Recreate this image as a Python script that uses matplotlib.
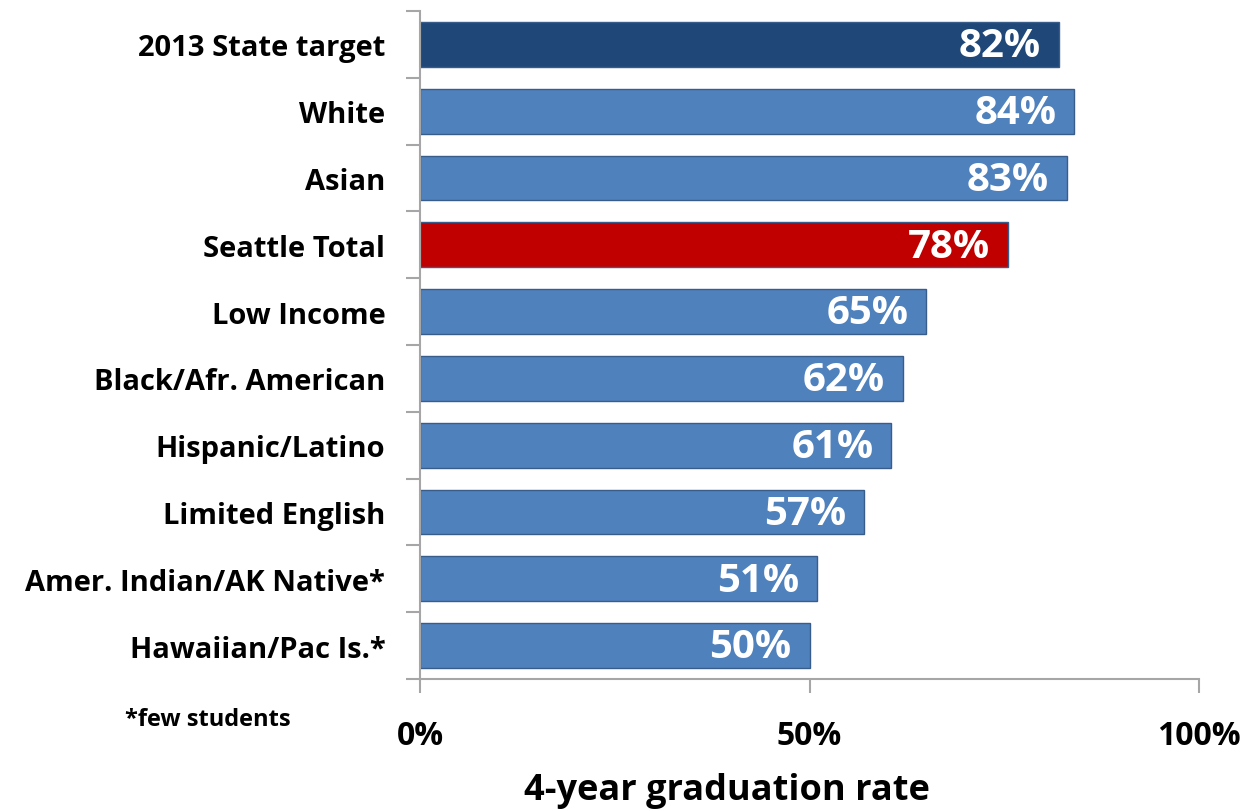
import matplotlib.pyplot as plt

# categories top to bottom
groups = ['2013 State target', 'White', 'Asian', 'Seattle Total', 'Low Income',
          'Black/Afr. American', 'Hispanic/Latino', 'Limited English',
          'Amer. Indian/AK Native*', 'Hawaiian/Pac Is.*']
rates = [82, 84, 83, 75.5, 65, 62, 60.5, 57, 51, 50]
rate_labels = ['82%', '84%', '83%', '78%', '65%', '62%', '61%', '57%', '51%', '50%']
bar_colors = ['#1F4778', '#4F81BD', '#4F81BD', '#C00000', '#4F81BD', '#4F81BD',
              '#4F81BD', '#4F81BD', '#4F81BD', '#4F81BD']
xticks = [0, 50, 100]
xtick_labels = ['0%', '50%', '100%']

plt.rcParams['font.family'] = ['Open Sans', 'DejaVu Sans']

fig = plt.figure(figsize=(12.49, 8.12), dpi=100)
ax = fig.add_axes([0.3363, 0.1626, 0.6237, 0.8226])

ypos = list(range(len(groups)))
ax.barh(ypos, rates, height=0.67, color=bar_colors, edgecolor='#385D8A', linewidth=1)

for y, v, lab in zip(ypos, rates, rate_labels):
    ax.annotate(lab, (v, y), xytext=(-13, -1), textcoords='offset points',
                ha='right', va='center', color='white', fontsize=29, fontweight='bold')

ax.set_xlim(0, 100)
ax.set_ylim(len(groups) - 0.5, -0.5)

# tick marks between categories, labels at bar centres
ax.set_yticks([y + 0.5 for y in range(-1, len(groups))])
ax.set_yticklabels([])
ax.set_yticks(ypos, minor=True)
ax.set_yticklabels(groups, minor=True, fontsize=21, fontweight='bold')
ax.tick_params(axis='y', which='minor', length=0, pad=25)
ax.tick_params(axis='y', which='major', length=10, color='#A6A6A6', width=1.5)

ax.set_xticks(xticks)
ax.set_xticklabels(xtick_labels, fontsize=23, fontweight='bold')
ax.tick_params(axis='x', length=10, color='#A6A6A6', width=1.5, pad=19)

for s in ['top', 'right']:
    ax.spines[s].set_visible(False)
for s in ['left', 'bottom']:
    ax.spines[s].set_color('#A6A6A6')
    ax.spines[s].set_linewidth(1.5)

fig.text(0.582, 0.026, '4-year graduation rate', fontsize=26, fontweight='bold',
         ha='center', va='center')
fig.text(0.1, 0.113, '*few students', fontsize=17, fontweight='bold', va='center')

fig.savefig('out.png', dpi=100)
